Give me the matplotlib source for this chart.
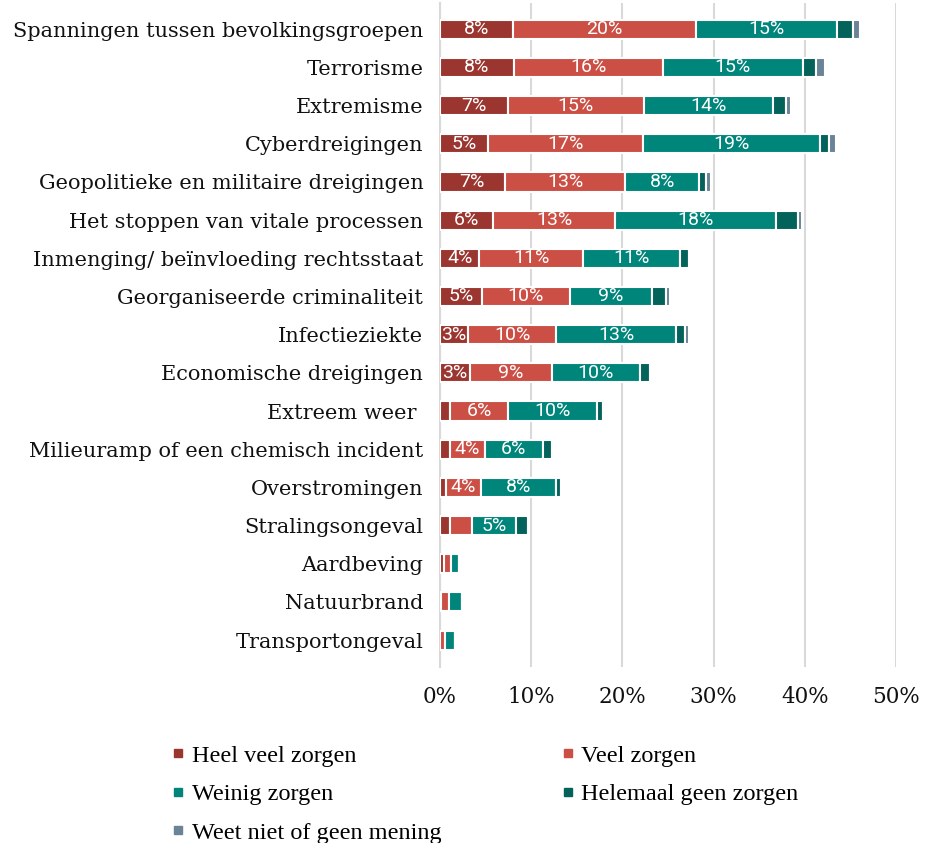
import matplotlib
matplotlib.use('Agg')
import matplotlib.pyplot as plt
from matplotlib.lines import Line2D
import numpy as np

categories = [
    'Spanningen tussen bevolkingsgroepen', 'Terrorisme', 'Extremisme',
    'Cyberdreigingen', 'Geopolitieke en militaire dreigingen',
    'Het stoppen van vitale processen', 'Inmenging/ beïnvloeding rechtsstaat',
    'Georganiseerde criminaliteit', 'Infectieziekte', 'Economische dreigingen',
    'Extreem weer ', 'Milieuramp of een chemisch incident', 'Overstromingen',
    'Stralingsongeval', 'Aardbeving', 'Natuurbrand', 'Transportongeval',
]
heel_veel = [8.0, 8.1, 7.4, 5.3, 7.1, 5.8, 4.3, 4.6, 3.1, 3.3, 1.1, 1.1, 0.6, 1.1, 0.4, 0.1, 0.0]
veel = [20.1, 16.3, 15.0, 17.0, 13.2, 13.4, 11.4, 9.6, 9.6, 9.0, 6.4, 3.8, 3.9, 2.4, 0.8, 0.9, 0.5]
weinig = [15.4, 15.4, 14.1, 19.4, 8.1, 17.6, 10.6, 9.0, 13.2, 9.6, 9.7, 6.4, 8.2, 4.8, 0.9, 1.45, 1.1]
helemaal = [1.8, 1.4, 1.4, 1.0, 0.8, 2.5, 1.0, 1.6, 1.0, 1.1, 0.7, 1.0, 0.6, 1.3, 0.0, 0.0, 0.0]
weet_niet = [0.7, 1.0, 0.6, 0.7, 0.5, 0.4, 0.0, 0.4, 0.4, 0.0, 0.0, 0.0, 0.0, 0.0, 0.0, 0.0, 0.0]

series = [
    ('Heel veel zorgen', heel_veel, '#9B352F', True),
    ('Veel zorgen', veel, '#CB4F45', True),
    ('Weinig zorgen', weinig, '#00857B', True),
    ('Helemaal geen zorgen', helemaal, '#03625A', False),
    ('Weet niet of geen mening', weet_niet, '#6A8396', False),
]
xticks = [0, 10, 20, 30, 40, 50]

fig = plt.figure(figsize=(9.26, 8.43), dpi=100)
ax = fig.add_axes([0.4752, 0.209, 0.4924, 0.788])

y = np.arange(len(categories))
left = np.zeros(len(categories))
for name, vals, color, show in series:
    vals = np.array(vals)
    ax.barh(y, vals, left=left, height=0.5, color=color,
            edgecolor='white', linewidth=1.5, zorder=3)
    if show:
        for yi, l, v in zip(y, left, vals):
            if v >= 2.5:
                ax.text(l + v / 2, yi, f'{v:.0f}%', ha='center', va='center',
                        color='white', fontsize=14, family='Roboto', zorder=4)
    left += vals

ax.set_xlim(0, 50)
ax.set_ylim(16.7, -0.7)
ax.set_yticks(y)
ax.set_yticklabels(categories, family='DejaVu Serif', fontsize=15)
ax.set_xticks(xticks)
ax.set_xticklabels([f'{t}%' for t in xticks], family='DejaVu Serif', fontsize=15.5)
ax.tick_params(axis='both', length=0, colors='#111111')
ax.tick_params(axis='x', pad=14)
ax.tick_params(axis='y', pad=12)
ax.grid(axis='x', color='#D9D9D9', linewidth=1.5, zorder=0)
for s in ['top', 'right', 'bottom']:
    ax.spines[s].set_visible(False)
ax.spines['left'].set_color('#D9D9D9')
ax.spines['left'].set_linewidth(1.5)

handles = {name: Line2D([], [], marker='s', linestyle='', color=color, markersize=6)
           for name, vals, color, show in series}
order = ['Heel veel zorgen', 'Weinig zorgen', 'Weet niet of geen mening',
         'Veel zorgen', 'Helemaal geen zorgen']
fig.legend([handles[n] for n in order], order, ncol=2, frameon=False,
           loc='upper left', bbox_to_anchor=(0.174, 0.128),
           prop={'family': 'Liberation Serif', 'size': 17.5},
           handlelength=0.6, handletextpad=0.25, columnspacing=4.9,
           labelspacing=0.68, borderaxespad=0)

fig.savefig('out.png', dpi=100)
